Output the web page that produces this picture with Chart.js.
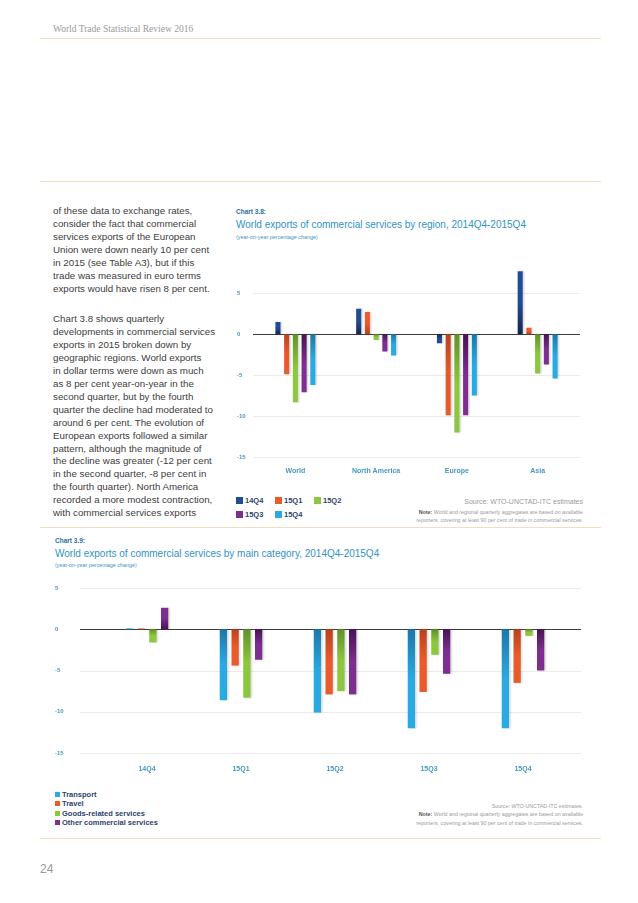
<!DOCTYPE html>
<html>
<head>
<meta charset="utf-8">
<script src="https://cdn.jsdelivr.net/npm/chart.js@4.4.0/dist/chart.umd.min.js"></script>
<style>
  body { margin: 0; background: #fff; width: 638px; height: 903px; position: relative; overflow: hidden;
         font-family: "Liberation Sans", Arial, sans-serif; }
  .abs { position: absolute; white-space: nowrap; }
  .rule { position: absolute; left: 40px; width: 561px; height: 1px; background: #f1dfc0; }
  .runhead { left: 53px; top: 24px; font: 9.5px "Liberation Serif", serif; color: #9a9a9a; }
  .body { left: 53px; font-size: 9.75px; line-height: 12.95px; color: #404040; }
  .clabel { font-size: 6.5px; font-weight: bold; color: #1f6fa3; }
  .ctitle { font-size: 10px; color: #2f93c6; }
  .csub { font-size: 5.4px; color: #3f95c2; }
  .src { right: 55px; text-align: right; color: #9a9a9a; }
  .src b { color: #555; }
  .legend { font-size: 7.5px; font-weight: bold; color: #2d3f6c; }
  .legend span.sw { display: inline-block; width: 7px; height: 7px; margin-right: 2px; vertical-align: -1px; }
  .pageno { left: 40px; top: 862px; font-size: 12px; color: #9a9a9a; }
</style>
</head>
<body>

<div class="abs runhead">World Trade Statistical Review 2016</div>
<div class="rule" style="top:38px"></div>
<div class="rule" style="top:181px"></div>

<div class="abs body" style="top:205px">of these data to exchange rates,<br>consider the fact that commercial<br>services exports of the European<br>Union were down nearly 10 per cent<br>in 2015 (see Table A3), but if this<br>trade was measured in euro terms<br>exports would have risen 8 per cent.</div>
<div class="abs body" style="top:313px">Chart 3.8 shows quarterly<br>developments in commercial services<br>exports in 2015 broken down by<br>geographic regions. World exports<br>in dollar terms were down as much<br>as 8 per cent year-on-year in the<br>second quarter, but by the fourth<br>quarter the decline had moderated to<br>around 6 per cent. The evolution of<br>European exports followed a similar<br>pattern, although the magnitude of<br>the decline was greater (-12 per cent<br>in the second quarter, -8 per cent in<br>the fourth quarter). North America<br>recorded a more modest contraction,<br>with commercial services exports</div>

<div class="abs clabel" style="left:236px; top:208px">Chart 3.8:</div>
<div class="abs ctitle" style="left:236px; top:219px">World exports of commercial services by region, 2014Q4-2015Q4</div>
<div class="abs csub" style="left:236px; top:234px">(year-on-year percentage change)</div>
<div class="abs" style="left:230px; top:250px; width:360px; height:232px"><canvas id="regionChart"></canvas></div>
<div class="abs legend" id="regionLegend" style="left:236px; top:496px; display:grid; grid-template-columns: 39px 39px 39px; row-gap:5px"></div>
<div class="abs src" style="top:498px; font-size:7px">Source: WTO-UNCTAD-ITC estimates</div>
<div class="abs src" style="top:508px; font-size:5.3px; line-height:8px"><b>Note:</b> World and regional quarterly aggregates are based on available<br>reporters, covering at least 90 per cent of trade in commercial services.</div>

<div class="rule" style="top:527px"></div>

<div class="abs clabel" style="left:55px; top:537px">Chart 3.9:</div>
<div class="abs ctitle" style="left:55px; top:548px">World exports of commercial services by main category, 2014Q4-2015Q4</div>
<div class="abs csub" style="left:55px; top:562px">(year-on-year percentage change)</div>
<div class="abs" style="left:45px; top:575px; width:545px; height:205px"><canvas id="categoryChart"></canvas></div>
<div class="abs legend" id="categoryLegend" style="left:55px; top:790px; line-height:9.4px"></div>
<div class="abs src" style="top:802px; font-size:5.3px; line-height:8.4px">Source: WTO-UNCTAD-ITC estimates.<br><b>Note:</b> World and regional quarterly aggregates are based on available<br>reporters, covering at least 90 per cent of trade in commercial services.</div>

<div class="rule" style="top:838px"></div>
<div class="abs pageno">24</div>

<script>
// Chart 3.8 - by region
const regions = ['World', 'North America', 'Europe', 'Asia'];
const quarters = ['14Q4', '15Q1', '15Q2', '15Q3', '15Q4'];
const q14Q4 = [1.5, 3.1, -1.1, 7.7];
const q15Q1 = [-4.9, 2.7, -9.9, 0.8];
const q15Q2 = [-8.3, -0.7, -12.0, -4.8];
const q15Q3 = [-7.1, -2.1, -9.9, -3.7];
const q15Q4 = [-6.2, -2.6, -7.5, -5.4];

// Chart 3.9 - by main category
const periods = ['14Q4', '15Q1', '15Q2', '15Q3', '15Q4'];
const categories = ['Transport', 'Travel', 'Goods-related services', 'Other commercial services'];
const transport = [0.1, -8.6, -10.1, -12.0, -12.0];
const travel = [0.1, -4.4, -7.9, -7.6, -6.5];
const goodsRelated = [-1.6, -8.3, -7.5, -3.1, -0.8];
const otherCommercial = [2.6, -3.7, -7.9, -5.4, -5.0];

const yTicks = [5, 0, -5, -10, -15];

const navy = ['#1f4c95', '#15254f'];
const orange = ['#ea5b2b', '#b8421d'];
const green = ['#8dc63f', '#5f9226'];
const purple = ['#7d2e8e', '#461353'];
const lightBlue = ['#2aaae2', '#1c77a8'];

// bars get darker toward the zero line
function shade(pair) {
  return function (c) {
    const chart = c.chart;
    if (!chart.chartArea || c.raw == null) return pair[0];
    const y = chart.scales.y;
    const y0 = y.getPixelForValue(0);
    const y1 = y.getPixelForValue(c.raw);
    if (Math.abs(y1 - y0) < 2) return pair[0];
    const g = chart.ctx.createLinearGradient(0, y1, 0, y0);
    g.addColorStop(0, pair[0]);
    g.addColorStop(0.5, pair[0]);
    g.addColorStop(1, pair[1]);
    return g;
  };
}

// horizontal grid drawn wider than the bar area
const wideGrid = {
  id: 'wideGrid',
  beforeDatasetsDraw(chart, args, opts) {
    const ctx = chart.ctx, y = chart.scales.y, a = chart.chartArea;
    ctx.save();
    y.ticks.forEach(t => {
      const py = Math.round(y.getPixelForValue(t.value)) + 0.5;
      ctx.beginPath();
      ctx.strokeStyle = t.value === 0 ? '#3c3c3c' : '#ebebeb';
      ctx.lineWidth = 1;
      ctx.moveTo(a.left - opts.left, py);
      ctx.lineTo(a.right + opts.right, py);
      ctx.stroke();
    });
    ctx.restore();
  },
  beforeDatasetDraw(chart) {
    const ctx = chart.ctx;
    ctx.save();
    ctx.shadowColor = 'rgba(0,0,0,0.16)';
    ctx.shadowOffsetX = 1.5;
    ctx.shadowBlur = 2;
  },
  afterDatasetDraw(chart) {
    chart.ctx.restore();
  }
};

function makeOptions(o) {
  return {
    responsive: true,
    maintainAspectRatio: false,
    animation: false,
    layout: { padding: o.padding },
    plugins: {
      legend: { display: false },
      tooltip: { enabled: false },
      wideGrid: { left: o.extL, right: o.extR }
    },
    scales: {
      x: {
        grid: { display: false, drawTicks: false },
        border: { display: false },
        ticks: { color: '#4599c2', padding: o.xPad, font: { family: 'Liberation Sans', size: 7, weight: 'bold' } },
        afterFit(s) { s.height = o.xHeight; }
      },
      y: {
        min: -15,
        max: o.max,
        grid: { display: false, drawTicks: false },
        border: { display: false },
        afterBuildTicks(s) { s.ticks = yTicks.map(v => ({ value: v })); },
        ticks: { color: '#4599c2', crossAlign: 'far', font: { family: 'Liberation Sans', size: 6, weight: 'bold' } },
        afterFit(s) { s.width = o.yWidth; }
      }
    }
  };
}

function bars(label, data, pair, catPct, barPct) {
  return { label: label, data: data, backgroundColor: shade(pair), borderWidth: 0,
           categoryPercentage: catPct, barPercentage: barPct };
}

const regionSeries = [q14Q4, q15Q1, q15Q2, q15Q3, q15Q4];
const regionColors = [navy, orange, green, purple, lightBlue];

new Chart(document.getElementById('regionChart'), {
  type: 'bar',
  data: {
    labels: regions,
    datasets: quarters.map((q, i) => bars(q, regionSeries[i], regionColors[i], 0.54, 0.58))
  },
  options: makeOptions({ padding: { left: 7, right: 12, top: 10.5, bottom: 0 }, max: 9,
                         xHeight: 25, xPad: 10, yWidth: 18, extL: 2, extR: 2 }),
  plugins: [wideGrid]
});

const categorySeries = [transport, travel, goodsRelated, otherCommercial];
const categoryColors = [lightBlue, orange, green, purple];

new Chart(document.getElementById('categoryChart'), {
  type: 'bar',
  data: {
    labels: periods,
    datasets: categories.map((c, i) => bars(c, categorySeries[i], categoryColors[i], 0.5, 0.62))
  },
  options: makeOptions({ padding: { left: 10, right: 20, top: 13, bottom: 0 }, max: 5,
                         xHeight: 27, xPad: 12, yWidth: 45, extL: 20, extR: 11 }),
  plugins: [wideGrid]
});

// html legends built from the same names and colours
document.getElementById('regionLegend').innerHTML = quarters.map((q, i) =>
  '<div><span class="sw" style="background:' + regionColors[i][0] + '"></span>' + q + '</div>').join('');
document.getElementById('categoryLegend').innerHTML = categories.map((c, i) =>
  '<div><span class="sw" style="width:5px;height:5px;margin-right:2px;vertical-align:0;background:' + categoryColors[i][0] + '"></span>' + c + '</div>').join('');
</script>
</body>
</html>
